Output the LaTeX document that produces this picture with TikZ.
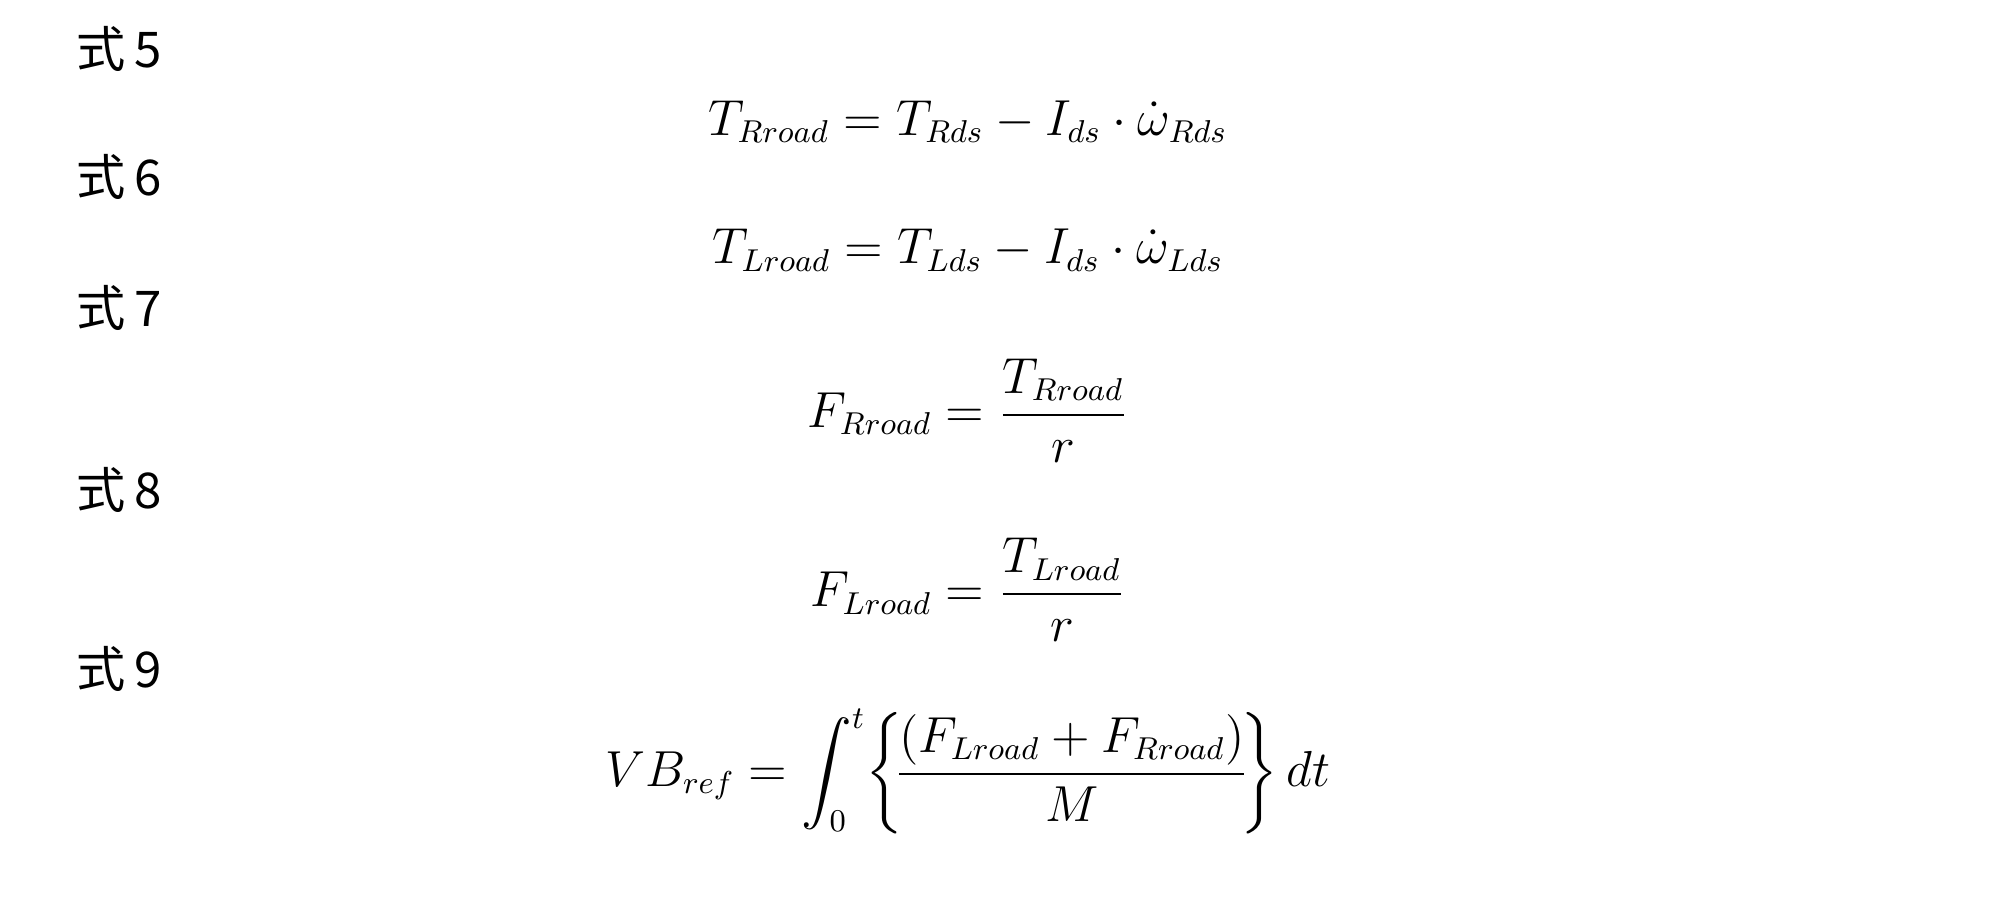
\documentclass[tikz,border=0pt]{standalone}
\usepackage{amsmath}
\usepackage{fontspec}
\newfontfamily\cjk{Noto Sans CJK JP}
\begin{document}
\begin{tikzpicture}[x=0.01282cm,y=-0.01282cm,
  lab/.style={font=\fontsize{14}{17}\selectfont, anchor=center, inner sep=0pt},
  eq/.style={font=\fontsize{13.5}{16}\selectfont, anchor=center, inner sep=0pt}]
\useasboundingbox (0,0) rectangle (1560,702);
\node[lab] (l5) at (93,38) {\cjk 式\,5};
\node[eq] (e5) at (755,95) {$T_{Rroad}=T_{Rds}-I_{ds}\cdot\dot{\omega}_{Rds}$};
\node[lab] (l6) at (93,138) {\cjk 式\,6};
\node[eq] (e6) at (755,195) {$T_{Lroad}=T_{Lds}-I_{ds}\cdot\dot{\omega}_{Lds}$};
\node[lab] (l7) at (93,240) {\cjk 式\,7};
\node[eq] (e7) at (755,320) {$F_{Rroad}=\dfrac{T_{Rroad}}{r}$};
\node[lab] (l8) at (93,382) {\cjk 式\,8};
\node[eq] (e8) at (755,460) {$F_{Lroad}=\dfrac{T_{Lroad}}{r}$};
\node[lab] (l9) at (93,522) {\cjk 式\,9};
\node[eq] (e9) at (755,602) {$VB_{ref}=\displaystyle\int_0^t\!\left\{\!\frac{(F_{Lroad}+F_{Rroad})}{M}\!\right\}dt$};
\end{tikzpicture}
\end{document}
